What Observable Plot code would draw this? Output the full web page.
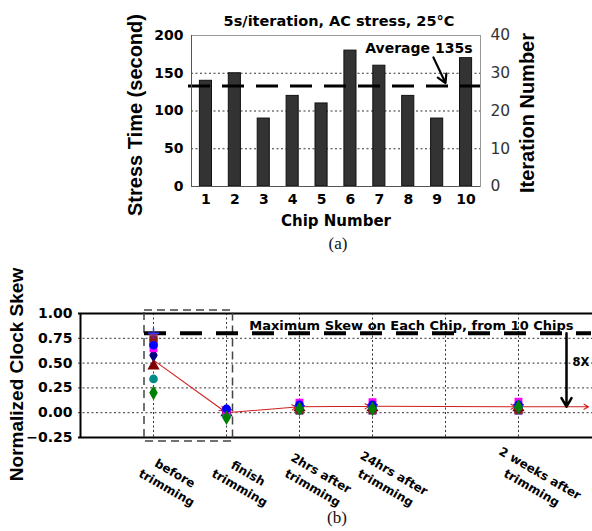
<!DOCTYPE html>
<html><head><meta charset="utf-8">
<script src="https://cdn.jsdelivr.net/npm/d3@7"></script>
<script src="https://cdn.jsdelivr.net/npm/@observablehq/plot@0.6"></script>
<style>
body{margin:0;background:#fff}
#fig{position:relative;width:592px;height:531px;background:#fff;overflow:hidden}
#top{position:absolute;left:0;top:0}
#bottom{position:absolute;left:0;top:255px}
.cap{position:absolute;width:80px;margin-left:-40px;text-align:center;font-family:"Liberation Serif","Times New Roman",serif;font-size:17px;line-height:18px;color:#111}
</style></head><body>
<div id="fig">
  <div id="top"></div>
  <div class="cap" style="left:338px;top:235px">(a)</div>
  <div id="bottom"></div>
  <div class="cap" style="left:337px;top:509px">(b)</div>
</div>
<script>
// ---------- (a) data ----------
const chips = [1, 2, 3, 4, 5, 6, 7, 8, 9, 10];
const stressTime = [140, 150, 90, 120, 110, 180, 160, 120, 90, 170];
const secondsPerIteration = 5;
const stressTicks = [0, 50, 100, 150, 200];
const chartTitle = "5s/iteration, AC stress, 25°C";
const averageLabel = "Average 135s";
const avgArrowChip = 9;

// ---------- (b) data ----------
const stages = ["before\ntrimming", "finish\ntrimming", "2hrs after\ntrimming", "24hrs after\ntrimming", "2 weeks after\ntrimming"];
const xSlots = ["start", stages[0], stages[1], stages[2], stages[3], "gap", stages[4], "end"];
const chipIds = ["J", "C", "B", "A", "F", "G", "H", "E", "D", "I"];
const chipColors = ["#993366", "#7030a0", "#8b1a1a", "#3333ff", "#000080", "#800000", "#008b8b", "#ff00ff", "#0000ff", "#008000"];
const chipSymbols = ["square", "square", "square", "plus", "diamond", "triangle", "circle", "square", "circle", "diamond"];
const skewBefore  = [0.76, 0.71, 0.73, 0.80, 0.58, 0.47, 0.34, 0.65, 0.68, 0.20];
const skewFinish  = [0.01, -0.01, 0.00, 0.03, 0.01, 0.00, -0.03, 0.02, 0.04, -0.05];
const skew2hrs    = [0.03, 0.02, 0.03, 0.07, 0.06, 0.05, 0.05, 0.10, 0.08, 0.04];
const skew24hrs   = [0.03, 0.02, 0.03, 0.08, 0.06, 0.05, 0.05, 0.105, 0.08, 0.04];
const skew2weeks  = [0.03, 0.02, 0.03, 0.08, 0.06, 0.05, 0.06, 0.11, 0.08, 0.06];
const meanSkew    = [0.53, 0.00, 0.06, 0.065, 0.06];
const skewTicks = [1, 0.75, 0.5, 0.25, 0, -0.25];
const maxLabel = "Maximum Skew on Each Chip, from 10 Chips";
const reductionLabel = "8X";

// ---------- (a) chart ----------
const barData = chips.map((c, i) => ({chip: c, time: stressTime[i]}));
const avg = d3.mean(stressTime);

const topPlot = Plot.plot({
  width: 592, height: 232,
  marginLeft: 191, marginRight: 112, marginTop: 35, marginBottom: 46,
  style: {fontFamily: "DejaVu Sans", fontWeight: "bold", fontSize: "14px", color: "#000", background: "#fff", overflow: "visible"},
  x: {type: "linear", domain: [0.5, 10.5], axis: null},
  y: {domain: [0, 200], axis: null},
  marks: [
    Plot.ruleY([50, 100, 150], {stroke: "#333", strokeDasharray: "2,2.5", strokeWidth: 1}),
    Plot.frame({stroke: "#999"}),
    Plot.rectY(barData, {x1: d => d.chip - 0.5, x2: d => d.chip + 0.5, y: "time", insetLeft: 8.4, insetRight: 8.4, fill: "#333", stroke: "#111"}),
    Plot.ruleY([avg], {stroke: "#000", strokeWidth: 3, strokeDasharray: "22,12", insetLeft: -3}),
    Plot.ruleY([0], {stroke: "#555"}),
    Plot.ruleX([0.5], {stroke: "#555"}),
    Plot.axisY({ticks: stressTicks, tickSize: 0, tickPadding: 8, label: null, fontSize: 14}),
    Plot.axisY({anchor: "right", ticks: stressTicks, tickFormat: d => d / secondsPerIteration, tickSize: 0, tickPadding: 10, label: null, fontWeight: "normal", fontSize: 15.5, fill: "#333"}),
    Plot.axisX({ticks: chips, tickFormat: d => d, tickSize: 0, tickPadding: 8, label: null, fontSize: 14}),
    Plot.text([chartTitle], {text: d => d, frameAnchor: "top", lineAnchor: "middle", dx: 3, dy: -14, fontSize: 14.5}),
    Plot.text([avg], {y: d => d, text: () => averageLabel, frameAnchor: "right", textAnchor: "end", lineAnchor: "middle", dx: -8, dy: -37.6, fontSize: 14}),
    Plot.arrow([avg], {x1: () => avgArrowChip - 0.13, y1: d => d + 38, x2: () => avgArrowChip + 0.29, y2: d => d + 4, stroke: "#000", strokeWidth: 2.2, headLength: 7}),
    Plot.text(["Stress Time (second)"], {text: d => d, frameAnchor: "left", textAnchor: "middle", lineAnchor: "middle", rotate: -90, dx: -56, dy: 4, fontFamily: "Liberation Sans", fontSize: 20}),
    Plot.text(["Iteration Number"], {text: d => d, frameAnchor: "right", textAnchor: "middle", lineAnchor: "middle", rotate: -90, dx: 47, dy: 2, fontFamily: "Liberation Sans", fontSize: 20}),
    Plot.text(["Chip Number"], {text: d => d, frameAnchor: "bottom", lineAnchor: "middle", dy: 35, fontSize: 15})
  ]
});
document.getElementById("top").append(topPlot);

// ---------- (b) chart ----------
const skewByStage = [skewBefore, skewFinish, skew2hrs, skew24hrs, skew2weeks];
const dots = stages.flatMap((s, i) => chipIds.map((c, j) => ({stage: s, chip: c, v: skewByStage[i][j]})));
const meanPts = stages.map((s, i) => ({stage: s, v: meanSkew[i]}));
meanPts.push({stage: "end", v: meanSkew[meanSkew.length - 1]});
const segs = d3.pairs(meanPts).map(([a, b]) => ({x1: a.stage, y1: a.v, x2: b.stage, y2: b.v}));
const maxSkew = d3.max(skewBefore);
const finalMean = meanSkew[meanSkew.length - 1];

const bottomPlot = Plot.plot({
  width: 592, height: 245,
  marginLeft: 78, marginRight: 0, marginTop: 58, marginBottom: 63,
  style: {fontFamily: "DejaVu Sans", fontWeight: "bold", fontSize: "14px", color: "#000", background: "#fff", overflow: "visible"},
  x: {type: "point", domain: xSlots, padding: 0, axis: null},
  y: {domain: [-0.25, 1], axis: null},
  symbol: {domain: chipIds, range: chipSymbols},
  color: {domain: chipIds, range: chipColors},
  marks: [
    Plot.ruleY([0.75, 0.5, 0.25, 0], {stroke: "#333", strokeDasharray: "2,2.5"}),
    Plot.ruleX(xSlots.slice(1, -1), {stroke: "#333", strokeDasharray: "2,2.5"}),
    Plot.ruleY([1, -0.25], {stroke: "#000", strokeWidth: 2}),
    Plot.ruleX([xSlots[0]], {stroke: "#000", strokeWidth: 2}),
    Plot.rect([0], {x1: () => stages[0], x2: () => stages[1], y1: () => 1, y2: () => -0.25,
      insetLeft: -9, insetRight: -6.5, insetTop: -3, insetBottom: -4,
      fill: "none", stroke: "#444", strokeWidth: 1.5, strokeDasharray: "8,5"}),
    Plot.ruleY([maxSkew], {x1: () => stages[0], x2: () => "end", insetLeft: -9, stroke: "#000", strokeWidth: 4, strokeDasharray: "22,14"}),
    Plot.arrow(segs, {x1: "x1", y1: "y1", x2: "x2", y2: "y2", stroke: "#d02020", strokeWidth: 1.1, headLength: 7, insetEnd: 3}),
    Plot.dot(dots, {x: "stage", y: "v", symbol: "chip", fill: "chip", stroke: "chip", r: 3.6, strokeWidth: 1.5}),
    Plot.text([maxSkew], {y: d => d, text: () => maxLabel, frameAnchor: "right", textAnchor: "end", lineAnchor: "middle", dx: -19, dy: -8, fontSize: 13}),
    Plot.arrow([0], {x1: () => "end", x2: () => "end", y1: () => maxSkew, y2: () => finalMean, dx: -25, stroke: "#000", strokeWidth: 2.5, headLength: 6}),
    Plot.text([0], {x: () => "end", y: () => (maxSkew + finalMean) / 2, text: () => reductionLabel, textAnchor: "start", lineAnchor: "middle", dx: -19, dy: -8, fontSize: 11.5}),
    Plot.axisY({ticks: skewTicks, tickFormat: ".2f", tickSize: 0, tickPadding: 6, label: null, fontSize: 14}),
    Plot.text(stages, {x: d => d, text: d => d, frameAnchor: "bottom", textAnchor: "middle", lineAnchor: "middle", rotate: 30, dx: 18, dy: 42, fontSize: 12, lineHeight: 1.4}),
    Plot.text(["Normalized Clock Skew"], {text: d => d, frameAnchor: "left", textAnchor: "middle", lineAnchor: "middle", rotate: -90, dx: -62, dy: -1, fontFamily: "Liberation Sans", fontSize: 19})
  ]
});
document.getElementById("bottom").append(bottomPlot);
</script>
</body></html>
